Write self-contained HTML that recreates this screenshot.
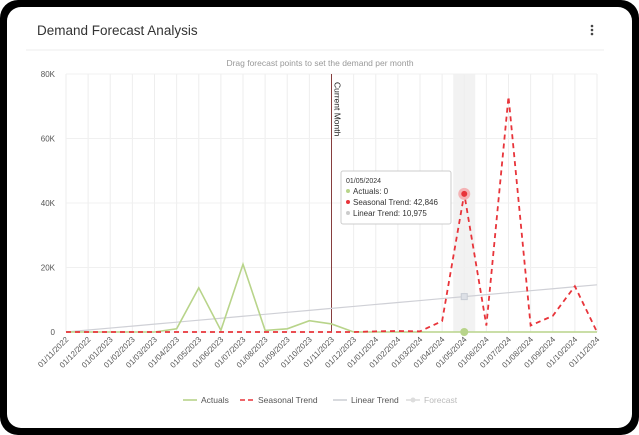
<!DOCTYPE html>
<html><head><meta charset="utf-8"><style>
html,body{margin:0;padding:0;background:#fff;}
body{width:639px;height:435px;overflow:hidden;font-family:"Liberation Sans",sans-serif;}
#frame{position:absolute;left:0;top:0;width:639px;height:435px;background:#000;border-radius:18px;}
#card{position:absolute;left:7px;top:7px;width:625px;height:421px;background:#fff;border-radius:14px;}
</style></head><body>
<div id="frame"></div>
<div id="card"></div>
<svg id="chart" width="639" height="435" style="position:absolute;left:0;top:0">
<text x="37" y="35" font-size="13.5" fill="#333">Demand Forecast Analysis</text>
<g fill="#444"><circle cx="592" cy="26" r="1.3"/><circle cx="592" cy="30" r="1.3"/><circle cx="592" cy="34" r="1.3"/></g>
<line x1="26" y1="50" x2="604" y2="50" stroke="#eee"/>
<text x="320" y="66" font-size="8.5" fill="#999" text-anchor="middle">Drag forecast points to set the demand per month</text>
<g id="grid"></g><g id="marks"></g><g id="legend"></g>
</svg>
<script>
const categories=["01/11/2022","01/12/2022","01/01/2023","01/02/2023","01/03/2023","01/04/2023","01/05/2023","01/06/2023","01/07/2023","01/08/2023","01/09/2023","01/10/2023","01/11/2023","01/12/2023","01/01/2024","01/02/2024","01/03/2024","01/04/2024","01/05/2024","01/06/2024","01/07/2024","01/08/2024","01/09/2024","01/10/2024","01/11/2024"];
const actuals=[0,0,0,0,0,1000,13700,500,21000,500,1000,3500,2500,0,0,0,0,0,0,0,0,0,0,0,0];
const seasonal=[0,0,0,0,0,0,0,0,0,0,0,0,0,0,200,300,200,3400,42846,2000,73000,2000,5000,14200,0];
const linear=[0,610,1220,1830,2440,3050,3660,4270,4880,5490,6100,6710,7320,7930,8540,9145,9755,10365,10975,11585,12195,12805,13415,14025,14630];
const yTicks=[0,20000,40000,60000,80000];
const yTickLabels=["0","20K","40K","60K","80K"];
const currentIdx=12, hoverIdx=18;
const X0=66,X1=597,Y0=332,Y1=74,YMAX=80000;
const x=i=>X0+(X1-X0)*i/(categories.length-1);
const y=v=>Y0-(Y0-Y1)*v/YMAX;
const NS="http://www.w3.org/2000/svg";
function mk(p,t,a){const e=document.createElementNS(NS,t);for(const k in a)e.setAttribute(k,a[k]);p.appendChild(e);return e;}
const grid=document.getElementById('grid'),marks=document.getElementById('marks'),leg=document.getElementById('legend');
let band=mk(grid,'rect',{x:x(hoverIdx)-11,y:Y1,width:22,height:Y0-Y1,fill:'#f2f2f2'});


categories.forEach((c,i)=>{
  let g=mk(grid,'line',{x1:x(i),y1:Y1,x2:x(i),y2:Y0,stroke:'#eee'});
  
  
  let t=mk(grid,'text',{x:x(i)+3,y:Y0+8,'font-size':'8',fill:'#555','text-anchor':'end',transform:`rotate(-45 ${x(i)+3} ${Y0+8})`});
  t.textContent=c;
  
  
});
yTicks.forEach((v,i)=>{
  let g=mk(grid,'line',{x1:X0,y1:y(v),x2:X1,y2:y(v),stroke:'#f0f0f0'});
  
  
  let t=mk(grid,'text',{x:55,y:y(v)+3,'font-size':'8',fill:'#555','text-anchor':'end'});
  t.textContent=yTickLabels[i];
  
  
});
let cm=mk(marks,'line',{x1:x(currentIdx),y1:Y1,x2:x(currentIdx),y2:Y0,stroke:'#7a2a2a','stroke-width':0.9});


let cmt=mk(marks,'text',{x:x(currentIdx)+3,y:Y1+8,'font-size':'8.5',fill:'#222',transform:`rotate(90 ${x(currentIdx)+3} ${Y1+8})`});
cmt.textContent='Current Month';


const pts=a=>a.map((v,i)=>x(i)+','+y(v)).join(' ');
let ll=mk(marks,'polyline',{points:pts(linear),fill:'none',stroke:'#cfd0d6','stroke-width':1.2});


let al=mk(marks,'polyline',{points:pts(actuals),fill:'none',stroke:'#b8d48a','stroke-width':1.6});


let sl=mk(marks,'polyline',{points:pts(seasonal),fill:'none',stroke:'#e8343a','stroke-width':1.8,'stroke-dasharray':'5,4'});


let h1=mk(marks,'circle',{cx:x(hoverIdx),cy:y(seasonal[hoverIdx]),r:6,fill:'#f4b3b5'});


let h2=mk(marks,'circle',{cx:x(hoverIdx),cy:y(seasonal[hoverIdx]),r:3,fill:'#e8343a'});


let h3=mk(marks,'rect',{x:x(hoverIdx)-3,y:y(linear[hoverIdx])-3,width:6,height:6,fill:'#dde0e6',stroke:'#c8ccd4'});


let h4=mk(marks,'circle',{cx:x(hoverIdx),cy:y(actuals[hoverIdx]),r:4,fill:'#b8d48a'});


const tg=mk(marks,'g',{});


mk(tg,'rect',{x:341,y:171,width:110,height:53,fill:'#fff',stroke:'#ccc',rx:2});
let tt=mk(tg,'text',{x:346,y:183,'font-size':'7',fill:'#333'});tt.textContent=categories[hoverIdx];
const rows=[['#b8d48a','Actuals: '+actuals[hoverIdx].toLocaleString('en-US')],['#e8343a','Seasonal Trend: '+seasonal[hoverIdx].toLocaleString('en-US')],['#ccc','Linear Trend: '+linear[hoverIdx].toLocaleString('en-US')]];
rows.forEach((r,i)=>{mk(tg,'circle',{cx:348,cy:191+i*11,r:2,fill:r[0]});let t=mk(tg,'text',{x:353,y:194+i*11,'font-size':'8',fill:'#333'});t.textContent=r[1];});
const legItems=[['Actuals','#b8d48a',183,''],['Seasonal Trend','#e8343a',240,'5,3'],['Linear Trend','#cfd0d6',333,''],['Forecast','#ddd',406,'']];
legItems.forEach(l=>{
  const g=mk(leg,'g',{});
  
  
  mk(g,'line',{x1:l[2],y1:400,x2:l[2]+14,y2:400,stroke:l[1],'stroke-width':1.6,'stroke-dasharray':l[3]});
  if(l[0]==='Forecast')mk(g,'circle',{cx:l[2]+7,cy:400,r:2.5,fill:'#ddd'});
  const t=mk(g,'text',{x:l[2]+18,y:403,'font-size':'8.5',fill:l[0]==='Forecast'?'#bbb':'#555'});t.textContent=l[0];
});
</script>
</body></html>
